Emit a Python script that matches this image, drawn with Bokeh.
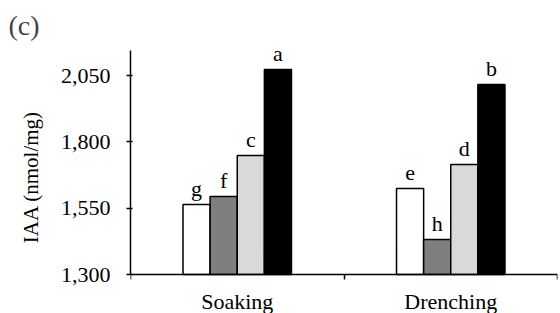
from bokeh.plotting import figure
from bokeh.models import FixedTicker, NumeralTickFormatter, Range1d, ColumnDataSource
from bokeh.embed import file_html
from bokeh.resources import INLINE
from bokeh.core.properties import value

# ---- data ----
methods = ["Soaking", "Drenching"]
soaking = [1564, 1594, 1749, 2073]
drenching = [1624, 1432, 1715, 2016]
soaking_letters = ["g", "f", "c", "a"]
drenching_letters = ["e", "h", "d", "b"]
bar_colors = ["#ffffff", "#7f7f7f", "#d9d9d9", "#000000"]
y_ticks = [1300, 1550, 1800, 2050]
y_label = "IAA (nmol/mg)"
panel_tag = "(c)"

# ---- build source ----
bar_w = 0.127
series = [soaking, drenching]
letters = [soaking_letters, drenching_letters]
xs, tops, cols, labs = [], [], [], []
for gi, (vals, lets) in enumerate(zip(series, letters)):
    n = len(vals)
    for j, (v, l) in enumerate(zip(vals, lets)):
        xs.append(gi + 0.5 + (j - (n - 1) / 2) * bar_w)
        tops.append(v)
        cols.append(bar_colors[j])
        labs.append(l)
src = ColumnDataSource(dict(x=xs, top=tops, color=cols, lab=labs))

base = y_ticks[0]
axis_top = 2144
y_top = 2182
y_bottom = 1153

FONT = "Liberation Serif"

p = figure(width=560, height=313, output_backend="svg", toolbar_location=None,
           x_range=Range1d(0, len(methods)), y_range=Range1d(y_bottom, y_top),
           min_border_left=130, min_border_right=3, min_border_bottom=0, min_border_top=40,
           title=panel_tag)
p.title.text_font = FONT
p.title.text_font_size = "28px"
p.title.text_font_style = "normal"
p.title.align = "left"
p.title.offset = -122
p.title.standoff = 0

p.vbar(x="x", top="top", bottom=base, width=bar_w, fill_color="color",
       line_color="black", line_width=1.5, source=src)
p.text(x="x", y="top", text="lab", source=src, text_align="center",
       text_baseline="alphabetic", y_offset=-16, text_font=value(FONT),
       text_font_size="22px", text_color="black")

p.grid.visible = False
p.outline_line_color = None
p.background_fill_color = None
p.border_fill_color = "white"

xa = p.xaxis[0]
xa.fixed_location = base
xa.ticker = FixedTicker(ticks=[i + 0.5 for i in range(len(methods))],
                        minor_ticks=list(range(len(methods) + 1)))
xa.major_label_overrides = {i + 0.5: m for i, m in enumerate(methods)}
xa.major_tick_line_color = None
xa.major_tick_in = 0
xa.major_tick_out = 0
xa.minor_tick_in = 0
xa.minor_tick_out = 5
xa.minor_tick_line_width = 1.5
xa.minor_tick_line_color = "black"
xa.axis_line_width = 1.5
xa.axis_line_color = "black"
xa.major_label_standoff = 9
xa.major_label_text_font = FONT
xa.major_label_text_font_size = "22px"
xa.major_label_text_color = "black"

ya = p.yaxis[0]
ya.ticker = FixedTicker(ticks=y_ticks, minor_ticks=[])
ya.formatter = NumeralTickFormatter(format="0,0")
ya.bounds = (base, axis_top)
ya.axis_line_width = 1.5
ya.axis_line_color = "black"
ya.major_tick_in = 2
ya.major_tick_out = 4
ya.major_tick_line_width = 1.5
ya.major_tick_line_color = "black"
ya.minor_tick_line_color = None
ya.major_label_standoff = 16
ya.major_label_text_font = FONT
ya.major_label_text_font_size = "22px"
ya.major_label_text_color = "black"
ya.axis_label = y_label
ya.axis_label_text_font = FONT
ya.axis_label_text_font_size = "21px"
ya.axis_label_text_font_style = "normal"
ya.axis_label_text_color = "black"
ya.axis_label_standoff = 15

open("out.html", "w").write(file_html(p, INLINE))
